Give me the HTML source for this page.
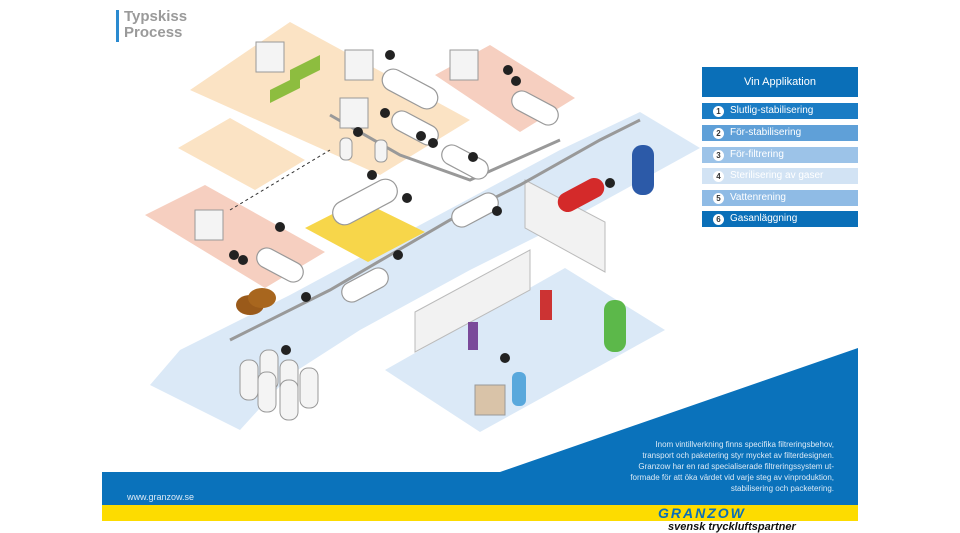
<!DOCTYPE html>
<html><head><meta charset="utf-8"><style>
body{margin:0;width:960px;height:533px;background:#fff;position:relative;overflow:hidden;font-family:"Liberation Sans",sans-serif}
.lg{position:absolute;left:702px;width:156px;color:#fff;font-size:10px;line-height:16px;height:16px}
.lg b{display:inline-block;width:11px;height:11px;border-radius:50%;background:#fff;color:#333;font-size:8px;line-height:11px;text-align:center;margin:0 6px 0 11px;vertical-align:-1px}
</style></head><body>
<svg width="960" height="533" style="position:absolute;left:0;top:0">
<!-- floors -->
<polygon points="190,90 290,22 470,120 380,175" fill="#fbe3c4"/>
<polygon points="178,148 230,118 305,160 255,190" fill="#fbe3c4"/>
<polygon points="435,75 490,45 575,98 520,132" fill="#f6cfc0"/>
<polygon points="145,215 205,185 325,252 265,288" fill="#f6cfc0"/>
<polygon points="180,350 290,295 420,225 560,150 640,112 700,148 560,225 470,270 360,330 290,375 240,430 150,385" fill="#dbe9f7"/>
<polygon points="385,370 565,268 665,330 480,432" fill="#dbe9f7"/>
<polygon points="305,228 360,200 425,232 368,262" fill="#f7d64a"/>
<polygon points="525,180 605,222 605,272 525,228" fill="#f2f2f2" stroke="#bbb"/>
<polygon points="415,312 530,250 530,290 415,352" fill="#f2f2f2" stroke="#bbb"/>
<!-- pipes -->
<polyline points="230,340 330,290 450,220 520,185 600,140 640,120" stroke="#999" stroke-width="3" fill="none"/>
<polyline points="330,115 400,155 470,180 560,140" stroke="#999" stroke-width="3" fill="none"/>
<line x1="230" y1="210" x2="330" y2="150" stroke="#333" stroke-dasharray="3,3"/>
<!-- tanks horizontal -->
<g fill="#fff" stroke="#999" stroke-width="1.2">
<rect x="380" y="78" width="60" height="22" rx="11" transform="rotate(28 410 89)"/>
<rect x="390" y="118" width="50" height="20" rx="10" transform="rotate(28 415 128)"/>
<rect x="440" y="152" width="50" height="20" rx="10" transform="rotate(28 465 162)"/>
<rect x="510" y="98" width="50" height="20" rx="10" transform="rotate(28 535 108)"/>
<rect x="450" y="200" width="50" height="20" rx="10" transform="rotate(-28 475 210)"/>
<rect x="255" y="255" width="50" height="20" rx="10" transform="rotate(28 280 265)"/>
<rect x="340" y="275" width="50" height="20" rx="10" transform="rotate(-28 365 285)"/>
<rect x="330" y="190" width="70" height="24" rx="12" transform="rotate(-28 365 202)"/>
</g>
<!-- vertical tanks -->
<g fill="#f4f4f4" stroke="#999">
<rect x="240" y="360" width="18" height="40" rx="8"/><rect x="260" y="350" width="18" height="40" rx="8"/>
<rect x="280" y="360" width="18" height="40" rx="8"/><rect x="300" y="368" width="18" height="40" rx="8"/>
<rect x="258" y="372" width="18" height="40" rx="8"/><rect x="280" y="380" width="18" height="40" rx="8"/>
<rect x="340" y="138" width="12" height="22" rx="5"/><rect x="375" y="140" width="12" height="22" rx="5"/>
<rect x="256" y="42" width="28" height="30"/><rect x="340" y="98" width="28" height="30"/><rect x="345" y="50" width="28" height="30"/>
<rect x="450" y="50" width="28" height="30"/><rect x="195" y="210" width="28" height="30"/>
<rect x="475" y="385" width="30" height="30" fill="#d9c3a8"/>
</g>
<rect x="632" y="145" width="22" height="50" rx="10" fill="#2c5aa8"/>
<rect x="556" y="185" width="50" height="20" rx="10" fill="#d42a2a" transform="rotate(-28 581 195)"/>
<rect x="604" y="300" width="22" height="52" rx="10" fill="#5cb84a"/>
<rect x="512" y="372" width="14" height="34" rx="6" fill="#59a8dc"/>
<rect x="540" y="290" width="12" height="30" fill="#c33"/><rect x="468" y="322" width="10" height="28" fill="#7a4a9a"/>
<ellipse cx="250" cy="305" rx="14" ry="10" fill="#9a5a1a"/><ellipse cx="262" cy="298" rx="14" ry="10" fill="#a8661e"/>
<g fill="#8dbd3f"><polygon points="290,70 320,55 320,70 290,85"/><polygon points="270,90 300,75 300,88 270,103"/></g>
<!-- number badges -->
<g fill="#222" font-size="7" font-weight="bold" text-anchor="middle">
<g fill="#222"><circle cx="390" cy="55" r="5"/><circle cx="508" cy="70" r="5"/><circle cx="516" cy="81" r="5"/><circle cx="385" cy="113" r="5"/><circle cx="358" cy="132" r="5"/><circle cx="421" cy="136" r="5"/><circle cx="433" cy="143" r="5"/><circle cx="473" cy="157" r="5"/><circle cx="372" cy="175" r="5"/><circle cx="407" cy="198" r="5"/><circle cx="497" cy="211" r="5"/><circle cx="610" cy="183" r="5"/><circle cx="280" cy="227" r="5"/><circle cx="234" cy="255" r="5"/><circle cx="243" cy="260" r="5"/><circle cx="398" cy="255" r="5"/><circle cx="306" cy="297" r="5"/><circle cx="286" cy="350" r="5"/><circle cx="505" cy="358" r="5"/></g>
</g>
<!-- bottom band -->
<polygon points="102,472 500,472 858,348 858,505 102,505" fill="#0a72bb"/>
<rect x="102" y="505" width="756" height="16" fill="#fddc00"/>
<rect x="116" y="10" width="3" height="32" fill="#2a8ad0"/>
</svg>
<div style="position:absolute;left:124px;top:9px;color:#9a9a9a;font-weight:bold;font-size:15px;line-height:16px">Typskiss<br>Process</div>
<div style="position:absolute;left:702px;top:67px;width:156px;height:30px;background:#0a6fb8;color:#fff;font-size:11px;line-height:30px;text-align:center">Vin Applikation</div>
<div class="lg" style="top:103px;background:#1a7cc4"><b>1</b>Slutlig-stabilisering</div>
<div class="lg" style="top:125px;background:#5fa0d8"><b>2</b>För-stabilisering</div>
<div class="lg" style="top:147px;background:#9cc3e8"><b>3</b>För-filtrering</div>
<div class="lg" style="top:168px;background:#d2e3f4"><b>4</b>Sterilisering av gaser</div>
<div class="lg" style="top:190px;background:#8fbbe5"><b>5</b>Vattenrening</div>
<div class="lg" style="top:211px;background:#0a6fb8"><b>6</b>Gasanläggning</div>
<div style="position:absolute;right:126px;top:439px;color:#dceaf6;font-size:8px;line-height:11px;text-align:right">Inom vintillverkning finns specifika filtreringsbehov,<br>transport och paketering styr mycket av filterdesignen.<br>Granzow har en rad specialiserade filtreringssystem ut-<br>formade för att öka värdet vid varje steg av vinproduktion,<br>stabilisering och packetering.</div>
<div style="position:absolute;left:127px;top:492px;color:#dceaf6;font-size:9px">www.granzow.se</div>
<div style="position:absolute;left:658px;top:505px;color:#0a6fb8;font-size:14px;font-weight:bold;font-style:italic;letter-spacing:2px">GRANZOW</div>
<div style="position:absolute;left:668px;top:521px;color:#111;font-size:11px;font-weight:bold;font-style:italic">svensk tryckluftspartner</div>
</body></html>
